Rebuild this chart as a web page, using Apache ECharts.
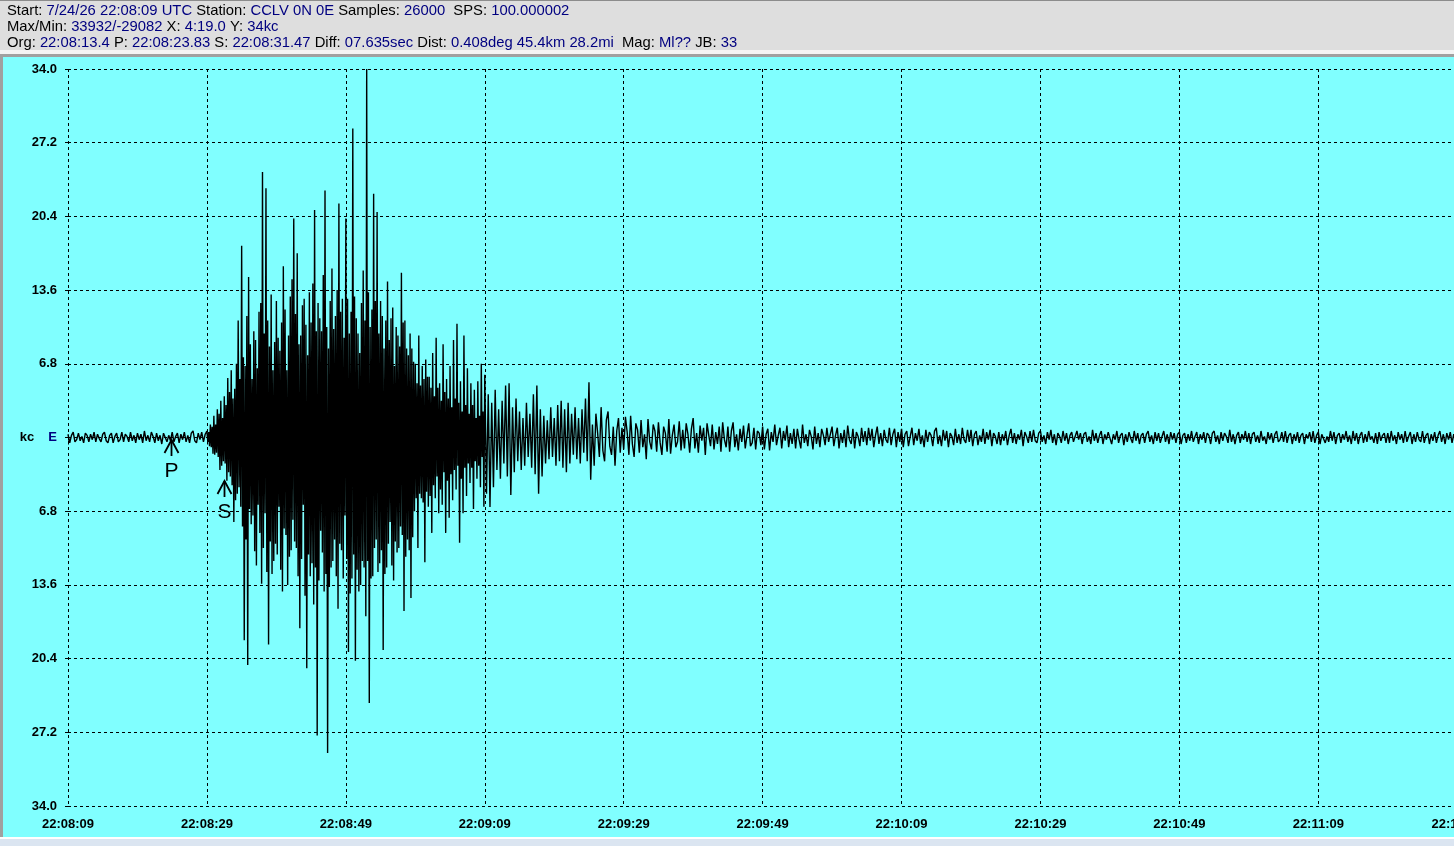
<!DOCTYPE html>
<html>
<head>
<meta charset="utf-8">
<script src="https://cdn.jsdelivr.net/npm/echarts@6/dist/echarts.min.js"></script>
<style>
html,body{margin:0;padding:0;overflow:hidden;background:#dbe5f1;width:1454px;height:846px}
#c{width:1900px;height:846px}
</style>
</head>
<body>
<div id="c"></div>
<script>
const FONT = '"Liberation Sans", Arial, sans-serif';

// ---- tick labels ----
const xTickLabels = ['22:08:09','22:08:29','22:08:49','22:09:09','22:09:29','22:09:49','22:10:09','22:10:29','22:10:49','22:11:09','22:11:29','22:11:49','22:12:09','22:12:29'];
const yTickLabels = ['34.0','27.2','20.4','13.6','6.8','', '6.8','13.6','20.4','27.2','34.0'];

// ---- header text: [label, value] pairs ----
const headerLine1 = [['Start: ','7/24/26 22:08:09 UTC'],[' Station: ','CCLV 0N 0E'],[' Samples: ','26000'],['  SPS: ','100.000002']];
const headerLine2 = [['Max/Min: ','33932/-29082'],[' X: ','4:19.0'],[' Y: ','34kc']];
const headerLine3 = [['Org: ','22:08:13.4'],[' P: ','22:08:23.83'],[' S: ','22:08:31.47'],[' Diff: ','07.635sec'],[' Dist: ','0.408deg 45.4km 28.2mi'],['  Mag: ','Ml??'],[' JB: ','33']];

// ---- phase picks (seconds after 22:08:09, arrow tip level in kc) ----
const pickNames = ['P','S'];
const pickTimes = [14.83, 22.47];
const pickLevels = [-0.25, -4.0];

// ---- trace amplitude (kc), read segment by segment ----
// pre-event noise: t 0 .. 19.75 s, every 0.25 s
const preEvent = [0.3,-0.5,0.2,0.5,-0.4,-0.2,0.4,-0.3,0.1,-0.5,0.4,0.2,-0.4,0.3,-0.2,0.5,-0.4,0.3,-0.1,-0.4,
 0.3,0.5,-0.3,-0.5,0.2,0.4,-0.5,0.1,0.4,-0.4,-0.2,0.5,-0.4,0.3,0.1,-0.4,0.5,-0.3,0.2,-0.5,
 0.4,-0.2,0.3,-0.5,0.6,-0.3,0.2,-0.4,0.5,0.1,-0.5,0.4,-0.3,0.2,-0.6,0.4,0.3,-0.4,0.2,-0.3,
 0.5,-0.4,0.1,0.4,-0.5,0.3,-0.2,0.5,-0.4,0.2,-0.5,0.4,0.6,-0.3,-0.5,0.4,-0.2,0.5,-0.4,0.3];
// strong motion: t 20 .. 59.875 s, every 0.125 s
const strongMotion = [0.6,-0.4,0.5,-0.8, 1.2,-0.9,1.0,-1.5, 2.0,-1.6,1.2,-1.4, 2.6,-1.8,2.2,-3.0, 3.4,-2.6,1.8,-2.2,
 3.8,-2.4,3.0,-4.0, 5.5,-3.2,4.2,-3.6, 6.2,-4.4,3.6,-7.8, 4.5,-5.8,6.8,-5.2, 10.8,-4.6,5.4,-6.4,
 17.7,-8.2,7.4,-18.7, 6.6,-9.4,11.2,-21.0, 14.8,-6.6,8.6,-8.0, 5.4,-7.2,9.8,-10.5, 9.0,-11.8,6.4,-6.2,
 11.6,-8.8,12.4,-13.5, 24.5,-10.2,9.6,-7.0, 23.0,-12.4,10.8,-19.1, 8.4,-9.6,13.2,-12.6, 6.2,-11.4,8.8,-9.8,
 12.6,-10.8,9.2,-6.4, 8.0,-12.2,10.6,-14.2, 15.8,-8.4,11.8,-9.0, 6.2,-13.6,9.4,-11.0, 13.0,-10.4,14.6,-7.6,
 20.2,-9.6,11.4,-10.2, 17.0,-12.8,8.6,-17.6, 9.4,-11.2,12.2,-6.2, 12.8,-14.6,10.4,-21.3, 7.6,-10.8,13.4,-12.8,
 10.6,-11.6,14.2,-15.4, 21.0,-12.0,9.8,-27.5, 12.4,-13.2,11.0,-8.6, 9.8,-10.6,15.0,-14.2, 22.8,-12.6,10.2,-29.1,
 8.2,-13.8,12.6,-12.0, 15.6,-11.4,10.0,-9.4, 11.2,-12.8,13.6,-15.8, 21.6,-9.8,11.6,-10.4, 12.8,-13.0,9.2,-7.2,
 20.2,-11.2,12.8,-19.8, 9.6,-14.4,11.6,-13.0, 28.5,-10.8,13.0,-20.6, 11.0,-12.2,9.6,-14.2, 7.8,-13.6,12.4,-11.4,
 15.4,-12.0,10.8,-16.5, 34.0,-11.4,13.4,-24.5, 10.2,-13.0,11.8,-12.8, 22.5,-10.2,12.6,-9.4, 20.8,-12.4,9.6,-11.6,
 12.6,-10.4,11.2,-19.6, 8.2,-12.6,10.8,-12.0, 14.4,-9.8,9.0,-7.8, 11.0,-11.8,12.0,-13.2, 6.6,-9.6,10.2,-10.6,
 9.4,-10.2,8.4,-8.2, 15.2,-9.0,10.6,-16.0, 10.8,-11.0,8.2,-9.4, 7.6,-10.4,9.6,-14.8, 8.2,-9.2,7.0,-6.8,
 6.8,-5.6,5.0,-10.2, 9.4,-5.2,4.8,-5.6, 6.6,-6.0,5.4,-11.5, 7.2,-5.0,5.6,-6.4, 5.6,-5.4,4.6,-8.8,
 7.8,-4.4,3.8,-5.6, 9.2,-3.6,4.6,-7.0, 5.0,-4.8,3.4,-6.2, 8.6,-3.2,4.2,-8.8, 5.4,-4.0,3.6,-7.4,
 6.6,-3.4,2.8,-5.8, 9.0,-3.0,3.6,-4.8, 10.5,-2.6,3.2,-9.7, 5.2,-3.8,2.4,-7.0, 9.4,-2.8,3.0,-5.4,
 6.4,-2.4,2.2,-4.2, 5.0,-2.8,3.0,-6.6, 4.4,-2.2,1.8,-3.8, 5.2,-2.6,2.0,-4.6, 6.8,-1.8,2.4,-6.4];
// coda: t 60 .. 74.75 s, every 0.25 s
const coda = [5.8,-5.2,4.0,-6.4,3.2,-4.6,4.4,-3.0,2.6,-3.8,
 3.4,-2.4,4.8,-3.6,5.0,-5.3,2.8,-3.2,3.6,-2.2,
 2.4,-3.0,1.8,-2.6,3.2,-1.8,2.2,-2.8,4.0,-3.4,
 4.8,-5.2,2.6,-3.6,2.0,-2.4,1.6,-2.0,2.8,-1.8,
 1.8,-2.6,3.0,-2.2,3.4,-2.8,2.6,-3.2,3.2,-2.4,
 2.2,-1.6,2.8,-2.0,1.8,-2.4,2.6,-1.4,3.6,-2.2];
// tail: t 75 .. 200 s, every 0.25 s
const tail = [5.1,-3.9,1.2,-2.6,2.2,0.4,-1.8,2.8,-1.2,-2.2,1.6,2.4,-0.8,-1.6,1.0,-2.6,0.6,1.8,-1.4,0.9,
 -1.1,1.9,0.5,-1.6,2.0,-0.6,-1.8,1.3,0.7,-1.4,1.6,-0.9,0.3,-2.0,1.7,-0.4,-1.1,1.2,0.6,-1.3,
 1.4,-0.5,-1.6,1.0,0.4,-1.3,1.7,-1.5,0.2,1.2,-0.9,-0.4,1.5,-1.2,0.7,-1.0,1.3,0.3,-1.4,0.8,
 1.8,-1.0,0.4,-1.4,1.1,-0.3,0.9,-1.6,1.3,0.2,-0.8,1.2,-1.1,0.5,-0.6,1.0,-1.3,1.4,-0.2,-0.9,
 1.0,-1.3,0.6,1.4,-0.9,0.3,-1.2,0.8,-0.4,1.1,-1.0,0.2,1.3,-0.8,-0.5,0.9,-1.1,0.6,0.4,-0.7,
 1.0,-1.1,0.3,0.8,-1.2,0.5,-0.4,1.2,-0.7,0.2,0.9,-1.0,0.6,-0.3,1.1,-0.9,0.4,-0.6,0.8,-1.0,
 0.8,-0.2,-1.0,1.2,-0.5,0.3,-0.8,0.7,0.1,-1.1,1.0,-0.6,0.4,-0.9,0.8,0.2,-0.7,0.9,-0.4,-0.3,
 1.0,-0.8,0.2,0.9,-1.0,0.4,-0.5,0.7,-0.9,1.1,-0.2,-0.6,0.8,-1.0,0.5,0.1,-0.8,0.9,-0.4,0.6,
 -0.7,0.9,-0.3,0.8,-0.9,0.2,1.0,-0.6,0.4,-0.8,0.7,-0.2,-0.5,0.9,-0.7,0.3,0.8,-0.9,0.5,-0.4,
 0.8,-0.9,0.3,0.6,-0.8,0.1,0.9,-0.7,0.4,-0.3,0.8,-0.6,0.2,-0.9,0.7,-0.4,0.5,0.2,-0.8,0.6,
 0.9,-0.6,0.2,-0.8,0.7,-0.3,0.6,-0.9,0.4,0.1,-0.7,0.8,-0.5,0.3,-0.6,0.9,-0.2,-0.5,0.7,-0.4,
 0.7,-0.8,0.3,0.6,-0.7,0.2,-0.4,0.8,-0.6,0.5,-0.2,0.7,-0.8,0.4,0.1,-0.6,0.5,-0.7,0.3,-0.3,
 0.6,-0.7,0.2,0.8,-0.5,0.4,-0.6,0.3,-0.2,0.7,-0.8,0.5,0.1,-0.5,0.6,-0.4,0.7,-0.3,-0.5,0.4,
 0.6,-0.4,0.2,-0.6,0.5,-0.2,0.7,-0.5,0.3,-0.7,0.4,0.1,-0.5,0.6,-0.3,0.4,-0.6,0.2,0.5,-0.4,
 -0.5,0.6,-0.2,0.4,-0.6,0.3,0.5,-0.4,0.1,-0.6,0.7,-0.3,0.4,-0.5,0.2,0.6,-0.6,0.3,-0.2,0.5,
 0.5,-0.6,0.3,-0.2,0.6,-0.5,0.2,0.4,-0.7,0.3,-0.4,0.5,-0.1,-0.5,0.6,-0.3,0.4,-0.6,0.2,0.4,
 -0.5,0.3,0.6,-0.4,0.2,-0.6,0.5,-0.3,0.4,-0.5,0.1,0.6,-0.4,0.3,-0.6,0.5,-0.2,0.4,-0.5,0.3,
 0.5,-0.6,0.2,0.4,-0.5,0.3,-0.3,0.6,-0.4,0.1,0.5,-0.6,0.3,-0.2,0.5,-0.5,0.4,0.2,-0.6,0.4,
 0.6,-0.4,0.2,-0.6,0.5,-0.3,0.4,0.1,-0.5,0.7,-0.4,0.3,-0.6,0.2,0.5,-0.5,0.3,-0.2,0.6,-0.4,
 0.4,-0.6,0.3,0.5,-0.4,0.2,-0.5,0.6,-0.3,0.1,-0.6,0.5,-0.2,0.4,-0.5,0.3,0.6,-0.4,-0.2,0.5,
 -0.4,0.6,-0.5,0.2,0.4,-0.6,0.3,-0.3,0.5,-0.5,0.2,0.4,-0.6,0.3,-0.1,0.5,-0.4,0.6,-0.5,0.2,
 0.5,-0.6,0.3,0.4,-0.5,0.1,-0.4,0.6,-0.3,0.5,-0.6,0.2,0.4,-0.5,0.3,-0.2,0.6,-0.4,0.2,-0.6,
 0.6,-0.3,0.4,-0.6,0.2,0.5,-0.5,0.3,-0.4,0.6,-0.2,0.1,-0.5,0.4,-0.6,0.5,-0.3,0.2,0.4,-0.5,
 0.4,-0.5,0.6,-0.3,0.2,-0.6,0.5,-0.2,0.3,-0.5,0.6,-0.4,0.1,0.5,-0.6,0.3,-0.4,0.5,-0.2,-0.4,
 0.6,-0.5,0.2,0.4,-0.6,0.3,-0.3,0.5,-0.5,0.2,0.6,-0.4,0.3,-0.6,0.4,-0.2,0.5,-0.5,0.3,-0.4,
 0.5];

// segments: [start second, sample step, values]
const segments = [[0, 0.25, preEvent], [20, 0.125, strongMotion], [60, 0.25, coda], [75, 0.25, tail]];
const trace = [];
segments.forEach(([t0, dt, vals]) => vals.forEach((v, i) => trace.push([t0 + i * dt, v])));

function headerRich(pairs) {
  return pairs.map(p => '{l|' + p[0] + '}{v|' + p[1] + '}').join('');
}
const headerRichStyles = {
  l: { color: '#000000', fontSize: 14.8, fontWeight: 'normal', fontFamily: FONT },
  v: { color: '#000080', fontSize: 14.8, fontWeight: 'normal', fontFamily: FONT }
};

const chart = echarts.init(document.getElementById('c'));
chart.setOption({
  animation: false,
  backgroundColor: '#80ffff',
  title: [
    { text: headerRich(headerLine1), left: 7, top: 3, padding: 0, textStyle: { fontWeight: 'normal', rich: headerRichStyles } },
    { text: headerRich(headerLine2), left: 7, top: 19, padding: 0, textStyle: { fontWeight: 'normal', rich: headerRichStyles } },
    { text: headerRich(headerLine3), left: 7, top: 35, padding: 0, textStyle: { fontWeight: 'normal', rich: headerRichStyles } }
  ],
  graphic: [
    { type: 'rect', left: 0, top: 0, shape: { width: 1900, height: 50 }, style: { fill: '#dedede' }, silent: true },
    { type: 'rect', left: 0, top: 0, shape: { width: 1900, height: 1 }, style: { fill: '#8c8c8c' }, silent: true },
    { type: 'rect', left: 0, top: 50, shape: { width: 1900, height: 4 }, style: { fill: '#f4f4f4' }, silent: true },
    { type: 'rect', left: 0, top: 54, shape: { width: 1900, height: 3 }, style: { fill: '#a0a0a0' }, silent: true },
    { type: 'rect', left: 0, top: 57, shape: { width: 3, height: 781 }, style: { fill: '#a0a0a0' }, silent: true },
    { type: 'rect', left: 0, top: 837, shape: { width: 1900, height: 2 }, style: { fill: '#ffffff' }, silent: true },
    { type: 'rect', left: 0, top: 839, shape: { width: 1900, height: 7 }, style: { fill: '#dbe5f1' }, silent: true }
  ],
  grid: { left: 68, top: 69, width: 1806, height: 737, containLabel: false, outerBoundsMode: 'none' },
  xAxis: {
    type: 'value', min: 0, max: 260, interval: 20,
    axisLine: { show: false },
    axisTick: { show: true, length: 7, lineStyle: { color: '#000', type: [3, 3] } },
    splitLine: { show: true, lineStyle: { color: '#000', width: 1, type: [3, 3] } },
    axisLabel: {
      margin: 12, color: '#000', fontSize: 13, fontWeight: 'bold', fontFamily: FONT,
      showMinLabel: true, showMaxLabel: true,
      formatter: v => xTickLabels[Math.round(v / 20)] || ''
    }
  },
  yAxis: {
    type: 'value', min: -34, max: 34, interval: 6.8,
    axisLine: { show: false },
    axisTick: { show: true, length: 6, lineStyle: { color: '#000', type: [3, 3] } },
    splitLine: { show: true, lineStyle: { color: '#000', width: 1, type: [3, 3] } },
    axisLabel: {
      margin: 11, color: '#000', fontSize: 13, fontWeight: 'bold', fontFamily: FONT,
      showMinLabel: true, showMaxLabel: true,
      formatter: v => {
        const idx = Math.round((34 - v) / 6.8);
        if (idx === 5) return '{k|kc}{s|}{e|E}';
        return yTickLabels[idx];
      },
      rich: {
        k: { color: '#000', fontSize: 13, fontWeight: 'bold', fontFamily: FONT },
        s: { width: 14 },
        e: { color: '#000080', fontSize: 13, fontFamily: FONT }
      }
    }
  },
  series: [
    {
      type: 'line', data: trace, symbol: 'none', showSymbol: false,
      lineStyle: { color: '#000', width: 1.4 }, silent: true, z: 3
    },
    {
      type: 'custom', coordinateSystem: 'cartesian2d', silent: true, clip: false, z: 4,
      data: pickTimes.map((t, i) => [t, pickLevels[i], i]),
      renderItem: (params, api) => {
        const p = api.coord([api.value(0), api.value(1)]);
        const x = Math.round(p[0]) + 0.5, y = Math.round(p[1]);
        const name = pickNames[api.value(2)];
        return {
          type: 'group', children: [
            { type: 'polyline', shape: { points: [[x - 7, y + 13], [x, y], [x + 7, y + 13]] }, style: { stroke: '#000', lineWidth: 1.8, fill: null } },
            { type: 'line', shape: { x1: x, y1: y, x2: x, y2: y + 16 }, style: { stroke: '#000', lineWidth: 1.8 } },
            { type: 'text', style: { text: name, x: x, y: y + 31, align: 'center', verticalAlign: 'middle', font: '21px ' + FONT, fill: '#000' } }
          ]
        };
      }
    }
  ]
});
</script>
</body>
</html>
